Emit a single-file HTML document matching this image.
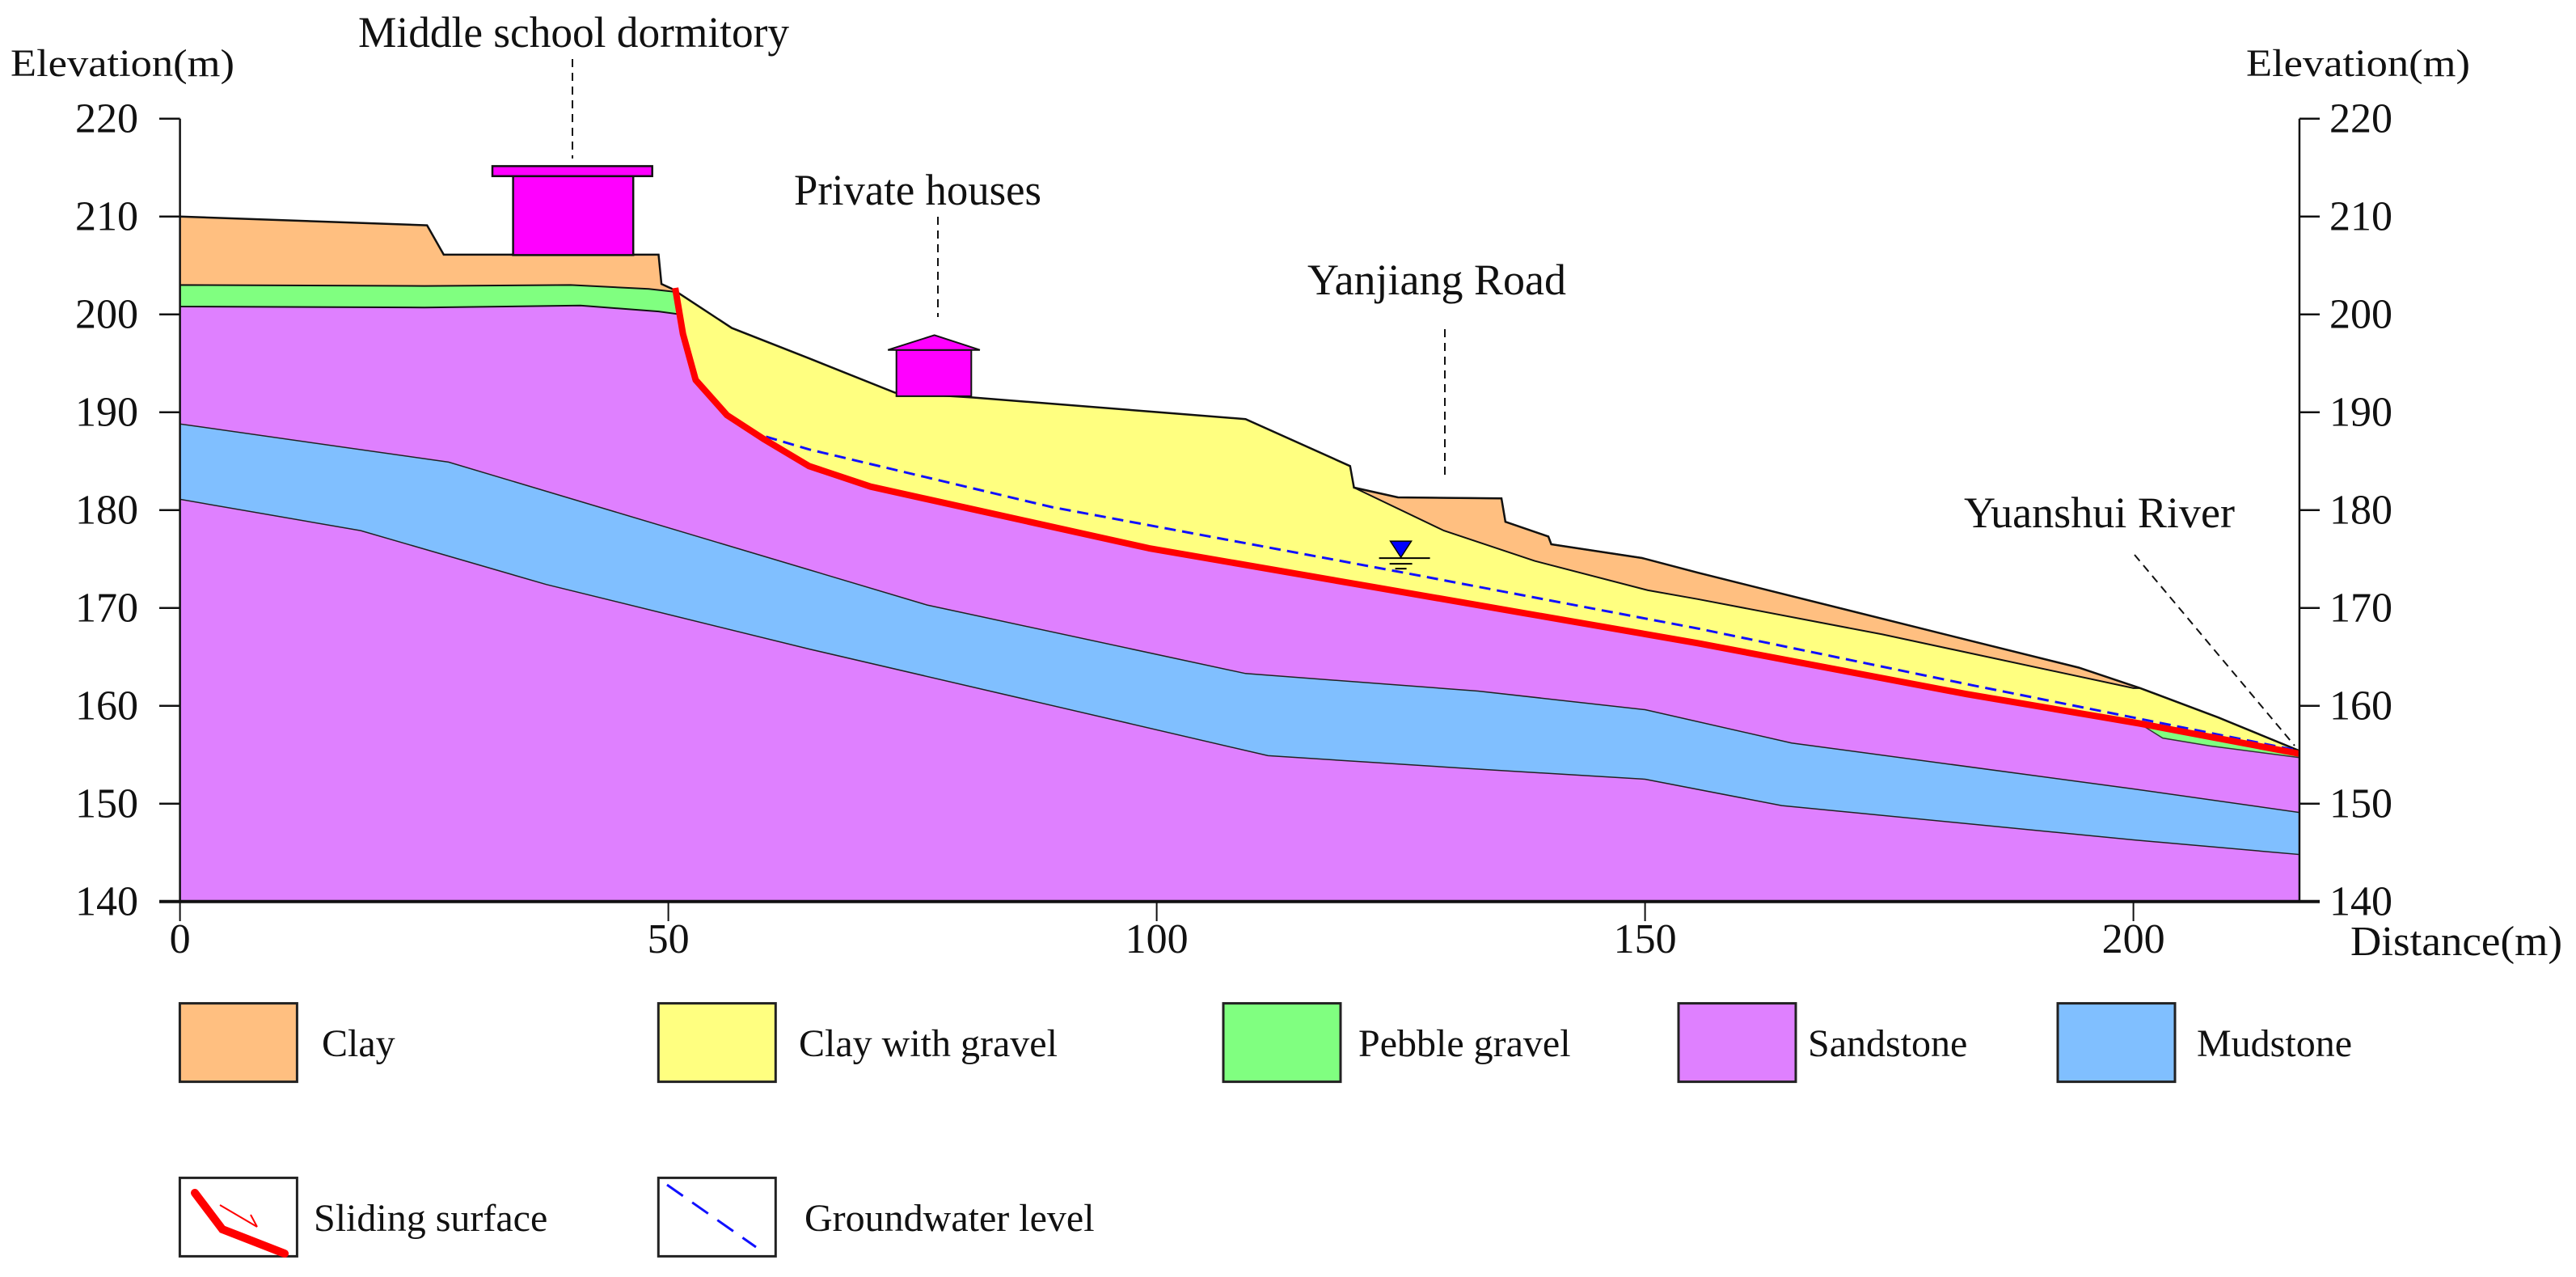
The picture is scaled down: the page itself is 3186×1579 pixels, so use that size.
<!DOCTYPE html>
<html><head><meta charset="utf-8"><style>
html,body{margin:0;padding:0;background:#fff;}
svg{display:block;font-family:"Liberation Serif",serif;}
</style></head><body>
<svg id="chart" width="3186" height="1579" viewBox="0 0 3186 1579" xmlns="http://www.w3.org/2000/svg"></svg>
<script>
// ---- data (distance m, elevation m) ----
const xTicks = [0, 50, 100, 150, 200];
const yTicks = [140, 150, 160, 170, 180, 190, 200, 210, 220];
const surfaceX = [0,25.3,27.0,49.0,49.3,50.4,56.5,64.4,73.2,81.2,109.1,119.8,120.2,124.7,135.3,135.7,140.1,140.4,149.7,155.4,183.5,194.4,200.7,208.7,217];
const surfaceY = [210,209.1,206.1,206.1,203.1,202.6,198.6,195.5,192.0,191.5,189.3,184.5,182.3,181.3,181.2,178.8,177.3,176.5,175.1,173.6,166.6,163.9,161.8,158.8,155.4];
const greenTopX = [0,25,40,48,50.7];
const greenTopY = [203.0,202.9,203.0,202.6,202.3];
const greenBotX = [0,25,41,49,51.2];
const greenBotY = [200.8,200.7,200.9,200.3,200.0];
const slideX = [50.7,51.5,52.8,56.0,59.7,64.4,70.7,99.2,122.4,155.4,182.9,200.6,217];
const slideY = [202.7,198.0,193.3,189.7,187.3,184.5,182.4,176.1,172.1,166.4,161.2,158.2,155.1];
const roadClayBotX = [120.2,129.4,138.7,150.3,155.4,174.3,200.0];
const roadClayBotY = [182.3,177.9,174.8,171.8,170.9,167.3,161.8];
const waterX = [60,64.4,89.3,125.3,155.4,183.5,217];
const waterY = [187.5,186.2,180.3,173.6,167.9,162.1,155.4];
const mudTopX = [0,27.5,64.4,76.5,109.1,132.9,150,165,200,217];
const mudTopY = [188.8,184.9,173.9,170.3,163.3,161.5,159.6,156.2,151.5,149.1];
const mudBotX = [0,18.5,37.5,64.4,111.4,131.7,150,164,200,217];
const mudBotY = [181.1,177.9,172.4,165.8,154.9,153.6,152.5,149.8,146.3,144.8];
const riverBotX = [200.6,203,207.8,217];
const riverBotY = [158.2,156.7,155.9,154.7];

// ---- scales ----
const X0=222.6, PXM=12.08, Y0=146.7, PYM=12.1;
const sx = v => X0 + v*PXM;
const sy = v => Y0 + (220 - v)*PYM;
const svg = document.getElementById('chart');
const NS='http://www.w3.org/2000/svg';
function mk(tag, attrs, parent){const e=document.createElementNS(NS,tag);for(const k in attrs)e.setAttribute(k,attrs[k]);(parent||svg).appendChild(e);return e;}
function pts(xs,ys){return xs.map((x,i)=>sx(x).toFixed(1)+','+sy(ys[i]).toFixed(1));}
function sub(xs,ys,a,b){const X=[],Y=[];xs.forEach((x,i)=>{if(x>=a&&x<=b){X.push(x);Y.push(ys[i]);}});return [X,Y];}

const AX = sx(217);
let p = pts(greenBotX,greenBotY).concat(pts(slideX,slideY)).concat([AX+','+sy(140), sx(0)+','+sy(140)]);
let e = mk('polygon',{points:p.join(' '),fill:'#DF80FF'});


p = pts(mudTopX,mudTopY).concat(pts(mudBotX.slice().reverse(),mudBotY.slice().reverse()));
e = mk('polygon',{points:p.join(' '),fill:'#80BFFF',stroke:'#222','stroke-width':1.5});


let [sX,sY] = sub(surfaceX,surfaceY,50.4,217);
p = pts(sX,sY).concat(pts(slideX.slice().reverse(),slideY.slice().reverse()));
e = mk('polygon',{points:p.join(' '),fill:'#FFFF80'});


[sX,sY] = sub(surfaceX,surfaceY,120.2,200.7);
p = pts(sX,sY).concat(pts(roadClayBotX.slice().reverse(),roadClayBotY.slice().reverse()));
e = mk('polygon',{points:p.join(' '),fill:'#FFBF80',stroke:'#111','stroke-width':2});


[sX,sY] = sub(surfaceX,surfaceY,0,50.4);
p = pts(sX,sY).concat(pts(greenTopX.slice().reverse(),greenTopY.slice().reverse()));
e = mk('polygon',{points:p.join(' '),fill:'#FFBF80'});


p = pts(greenTopX,greenTopY).concat(pts(greenBotX.slice().reverse(),greenBotY.slice().reverse()));
e = mk('polygon',{points:p.join(' '),fill:'#80FF80',stroke:'#111','stroke-width':2});


[sX,sY] = sub(slideX,slideY,200.6,217);
p = pts(sX,sY).concat(pts(riverBotX.slice().reverse(),riverBotY.slice().reverse()));
e = mk('polygon',{points:p.join(' '),fill:'#80FF80',stroke:'#333','stroke-width':1.5});


e = mk('polyline',{points:pts(surfaceX,surfaceY).join(' '),fill:'none',stroke:'#111','stroke-width':2.5});


e = mk('polyline',{points:pts(waterX,waterY).join(' '),fill:'none',stroke:'#1010ff','stroke-width':3,'stroke-dasharray':'14,8'});


e = mk('polyline',{points:pts(slideX,slideY).join(' '),fill:'none',stroke:'#ff0000','stroke-width':8,'stroke-linejoin':'round'});


const wx=sx(125), wy=sy(175.5);
e = mk('polygon',{points:`${wx-13},${wy-16} ${wx+13},${wy-16} ${wx},${wy+4}`,fill:'#0000ff',stroke:'#000','stroke-width':1.5});


mk('line',{x1:wx-27,y1:wy+5,x2:wx+36,y2:wy+5,stroke:'#000','stroke-width':2});
mk('line',{x1:wx-14,y1:wy+12,x2:wx+14,y2:wy+12,stroke:'#000','stroke-width':2});
mk('line',{x1:wx-7,y1:wy+18,x2:wx+7,y2:wy+18,stroke:'#000','stroke-width':2});

const AB = sy(140);
e = mk('line',{x1:X0,y1:sy(220),x2:X0,y2:AB,stroke:'#111','stroke-width':2.5});


e = mk('line',{x1:AX,y1:sy(220),x2:AX,y2:AB,stroke:'#111','stroke-width':2.5});


e = mk('line',{x1:197,y1:AB,x2:2869,y2:AB,stroke:'#111','stroke-width':4});


yTicks.forEach(v=>{
  mk('line',{x1:197,y1:sy(v),x2:X0,y2:sy(v),stroke:'#111','stroke-width':2.5});
  mk('line',{x1:AX,y1:sy(v),x2:2869,y2:sy(v),stroke:'#111','stroke-width':2.5});
  let t = mk('text',{x:171,y:sy(v)+17,'font-size':52,'text-anchor':'end',fill:'#111'}); t.textContent=v;
  
  
  t = mk('text',{x:2881,y:sy(v)+17,'font-size':52,fill:'#111'}); t.textContent=v;
  
  
});
xTicks.forEach(v=>{
  mk('line',{x1:sx(v),y1:AB,x2:sx(v),y2:1139,stroke:'#111','stroke-width':2});
  const t = mk('text',{x:sx(v),y:1178,'font-size':52,'text-anchor':'middle',fill:'#111'}); t.textContent=v;
  
  
});
</script>
<svg style="position:absolute;left:0;top:0" width="3186" height="1579">
 <g font-family="Liberation Serif, serif" fill="#111">
  <text x="13" y="94" font-size="48" textLength="277" lengthAdjust="spacingAndGlyphs">Elevation(m)</text>
  <text x="2778" y="94" font-size="48" textLength="277" lengthAdjust="spacingAndGlyphs">Elevation(m)</text>
  <text x="2907" y="1181" font-size="52" textLength="262" lengthAdjust="spacingAndGlyphs">Distance(m)</text>
  <text x="443" y="58" font-size="54" textLength="533" lengthAdjust="spacingAndGlyphs">Middle school dormitory</text>
  <text x="982" y="253" font-size="54" textLength="306" lengthAdjust="spacingAndGlyphs">Private houses</text>
  <text x="1617" y="364" font-size="54" textLength="320" lengthAdjust="spacingAndGlyphs">Yanjiang Road</text>
  <text x="2429" y="652" font-size="54" textLength="335" lengthAdjust="spacingAndGlyphs">Yuanshui River</text>
 </g>
 <g stroke="#111" stroke-width="2" stroke-dasharray="10,7" fill="none">
  <line x1="708" y1="73" x2="708" y2="196"/>
  <line x1="1160" y1="268" x2="1160" y2="392"/>
  <line x1="1787" y1="407" x2="1787" y2="592"/>
  <line x1="2640" y1="686" x2="2838" y2="922"/>
 </g>
 <g fill="#FF00FF" stroke="#111" stroke-width="2.5">
  <rect x="634.6" y="217.8" width="148.6" height="97.6"/>
  <rect x="609" y="205.4" width="197.7" height="12.4"/>
 </g>
 <g fill="#FF00FF" stroke="#111" stroke-width="2">
  <rect x="1108.7" y="432.7" width="92.6" height="57.2"/>
  <polygon points="1098.2,432.7 1211.9,432.7 1155.7,414.4"/>
 </g>
 <g font-family="Liberation Serif, serif" font-size="48" fill="#111" stroke="#222" stroke-width="3">
  <rect x="222.4" y="1240.6" width="145" height="97" fill="#FFBF80"/>
  <rect x="814.3" y="1240.6" width="145" height="97" fill="#FFFF80"/>
  <rect x="1513" y="1240.6" width="145" height="97" fill="#80FF80"/>
  <rect x="2076" y="1240.6" width="145" height="97" fill="#DF80FF"/>
  <rect x="2545" y="1240.6" width="145" height="97" fill="#80BFFF"/>
  <rect x="222.4" y="1456.4" width="145" height="97" fill="#fff"/>
  <rect x="814.3" y="1456.4" width="145" height="97" fill="#fff"/>
 </g>
 <path d="M241,1475 L275,1520 L352,1550" stroke="#ff0000" stroke-width="10" fill="none" stroke-linecap="round"/>
 <path d="M272,1490 L318,1517 M310,1502 L318,1517" stroke="#ff0000" stroke-width="2" fill="none"/>
 <line x1="825" y1="1465" x2="935" y2="1542" stroke="#1010ff" stroke-width="3" stroke-dasharray="24,14"/>
 <g font-family="Liberation Serif, serif" font-size="48" fill="#111">
  <text x="398" y="1306">Clay</text>
  <text x="988" y="1306">Clay with gravel</text>
  <text x="1680" y="1306">Pebble gravel</text>
  <text x="2236" y="1306">Sandstone</text>
  <text x="2717" y="1306">Mudstone</text>
  <text x="388" y="1522">Sliding surface</text>
  <text x="995" y="1522">Groundwater level</text>
 </g>
</svg>
</body></html>
